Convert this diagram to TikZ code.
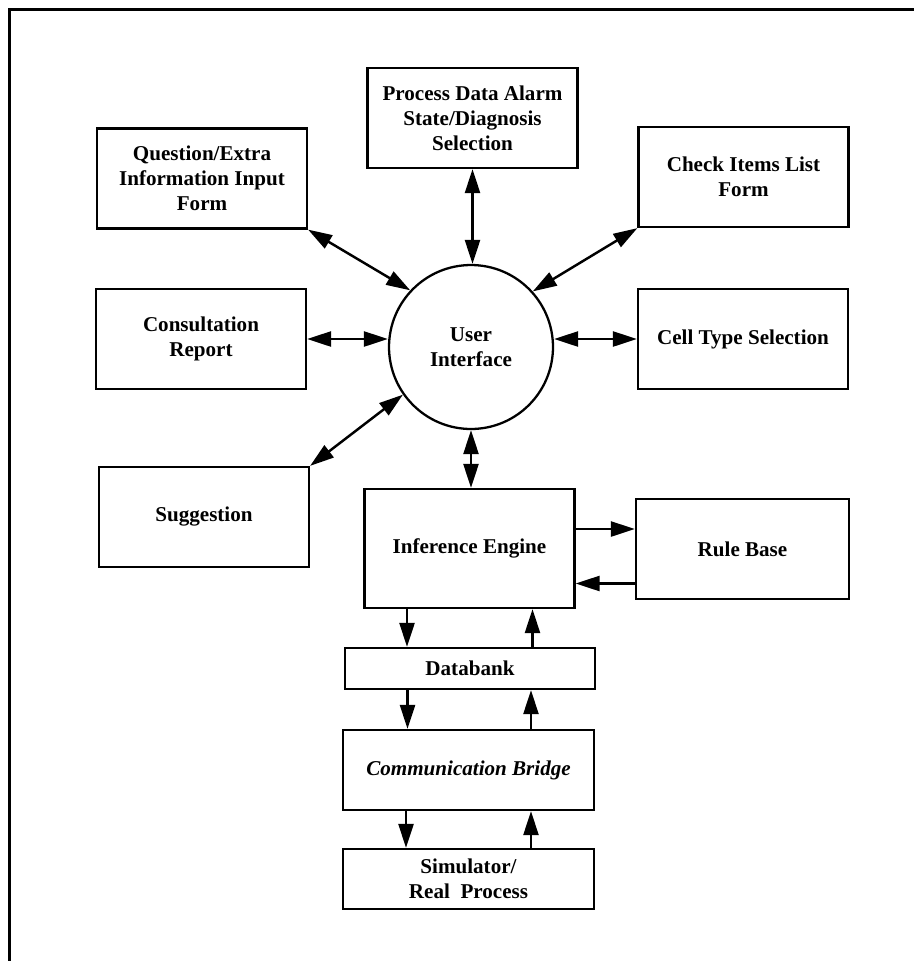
\documentclass[tikz,border=0pt]{standalone}
\usepackage{fontspec}
\setmainfont{Liberation Serif}
\usetikzlibrary{arrows.meta}

\begin{document}
\begin{tikzpicture}[x=0.02cm,y=-0.02cm]
		\useasboundingbox (0,0) rectangle (914,961);
		\draw [line width=1.5pt] (9.5,961) -- (9.5,9.5) -- (914,9.5);
		
		\begin{scope}[every node/.style={rectangle,line width=1.3pt,draw,align=center,inner sep=0pt,
				font=\bfseries\fontsize{12}{14.2}\selectfont, minimum width=4.2cm, minimum height=2cm}]
			\node (QF) at (202,178.5) {Question/Extra\\Information Input\\Form};
			\node (PD) at (472.5,118) {Process Data Alarm\\State/Diagnosis\\Selection};
			\node (CL) at (743.5,177) {Check Items List\\Form};
			\node (CR) at (201,339) {Consultation\\Report};
			\node (CT) at (743,339) {Cell Type Selection};
			\node (SG) at (204,517) {Suggestion};
			\node [circle, minimum size=3.28cm] (UI) at (471,347) {User\\Interface};
			\node [minimum height=2.38cm] (IE) at (469.5,548.5) {Inference Engine};
			\node [minimum width=4.26cm] (RB) at (742.5,549) {Rule Base};
			\node [minimum width=5cm, minimum height=0.82cm] (DB) at (470,668.5) {Databank};
			\node [minimum width=5.02cm, minimum height=1.6cm] (CB) at (468.5,770) {\itshape Communication Bridge};
			\node [minimum width=5.02cm, minimum height=1.2cm] (SR) at (468.5,879) {Simulator/\\Real~~Process};
		\end{scope}
		
		\tikzstyle{arrow} = [line width=1.4pt,<->,>={Triangle[length=0.48cm,width=0.3cm]},color=black]
		\draw [arrow] (QF.south east) -- (UI.137);
		\draw [arrow] (PD.south) -- (PD.south |- UI.north);
		\draw [arrow] (CL.south west) -- (UI.42);
		\draw [arrow] (CR.east) -- (CR.east -| UI.west);
		\draw [arrow] (CT.west) -- (CT.west -| UI.east);
		\draw [arrow] (SG.north east) -- (UI.215);
		\draw [arrow] (UI.south) -- (UI.south |- IE.north);
		
		\tikzstyle{arrow} = [line width=1.4pt,->,>={Triangle[length=0.48cm,width=0.3cm]},color=black]
		\draw [arrow] ([yshift=0.39cm]IE.east) -- ([yshift=0.39cm]IE.east -| RB.west);
		\draw [arrow] ([yshift=-0.69cm]RB.west) -- ([yshift=-0.69cm]RB.west -| IE.east);
		
		\draw [arrow] ([xshift=-1.25cm]IE.south) -- ([xshift=-1.25cm]IE.south |- DB.north);
		\draw [arrow] ([xshift=1.25cm]DB.north) -- ([xshift=1.25cm]DB.north |- IE.south);
		\draw [arrow] ([xshift=-1.25cm]DB.south) -- ([xshift=-1.25cm]DB.south |- CB.north);
		\draw [arrow] ([xshift=1.25cm]CB.north) -- ([xshift=1.25cm]CB.north |- DB.south);
		\draw [arrow] ([xshift=-1.25cm]CB.south) -- ([xshift=-1.25cm]CB.south |- SR.north);
		\draw [arrow] ([xshift=1.25cm]SR.north) -- ([xshift=1.25cm]SR.north |- CB.south);
		
	\end{tikzpicture}
\end{document}
